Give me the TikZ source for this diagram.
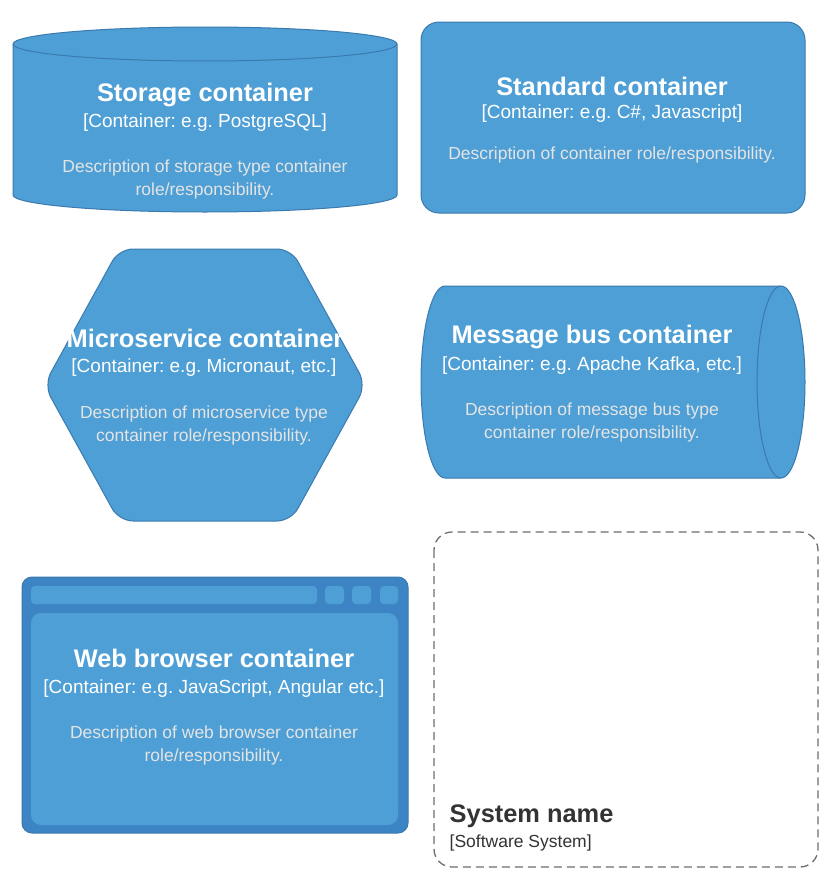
\documentclass[tikz,border=0pt]{standalone}
\usepackage{fontspec}
\setmainfont{Liberation Sans}
\frenchspacing
\definecolor{c4fill}{HTML}{4E9FD5}
\definecolor{c4stroke}{HTML}{3B79AE}
\definecolor{c4dark}{HTML}{3D84C4}
\definecolor{descgray}{HTML}{E4E4E4}
\definecolor{sysgray}{HTML}{333333}
\definecolor{dashgray}{HTML}{6E6E6E}
\begin{document}
\begin{tikzpicture}[x=1pt,y=-1pt,
  box/.style={fill=c4fill, draw=c4stroke, line width=1pt},
  ttl/.style={font=\bfseries\fontsize{25.4}{30}\selectfont, text=white, anchor=base, inner sep=0pt},
  typ/.style={font=\fontsize{19}{23}\selectfont, text=white, anchor=base, inner sep=0pt},
  dsc/.style={font=\fontsize{17.5}{23}\selectfont, text=descgray, anchor=base, inner sep=0pt},
  systtl/.style={font=\bfseries\fontsize{25.4}{30}\selectfont, text=sysgray, anchor=base west, inner sep=0pt},
  systyp/.style={font=\fontsize{17.5}{21}\selectfont, text=sysgray, anchor=base west, inner sep=0pt}]
\fill[white] (0,0) rectangle (832,878);
\useasboundingbox (0,0) rectangle (832,878);

% Storage container (cylinder)
\draw[box] (13,44) -- (13,195) arc[start angle=180,end angle=0,x radius=192,y radius=17]
  -- (397,44) arc[start angle=0,end angle=-180,x radius=192,y radius=17] -- cycle;
\draw[c4stroke, line width=1pt] (13,44) arc[start angle=180,end angle=0,x radius=192,y radius=17];
\node[ttl] (stT) at (205,101.5) {Storage container};
\node[typ] (stY) at (205,127) {[Container: e.g. PostgreSQL]};
\node[dsc] (stD1) at (205,172) {Description of storage type container};
\node[dsc] (stD2) at (205,195) {role/responsibility.};

% Standard container
\draw[box, rounded corners=18pt] (421,22) rectangle (805,213);
\node[ttl] (sdT) at (612,95.5) {Standard container};
\node[typ] (sdY) at (612,118.5) {[Container: e.g. C\#, Javascript]};
\node[dsc] (sdD1) at (612,159) {Description of container role/responsibility.};

% Microservice container (hexagon)
\draw[box, rounded corners=14pt] (119,249) -- (291,249) -- (366,385) -- (291,521) -- (119,521) -- (44,385) -- cycle;
\node[ttl] (msT) at (205,347) {Microservice container};
\node[typ] (msY) at (204,372) {[Container: e.g. Micronaut, etc.]};
\node[dsc] (msD1) at (204,418) {Description of microservice type};
\node[dsc] (msD2) at (204,441) {container role/responsibility.};

% Message bus container (horizontal cylinder)
\draw[box] (445,286) arc[start angle=-90,end angle=-270,x radius=24,y radius=96]
  -- (781,478) arc[start angle=90,end angle=-90,x radius=24,y radius=96] -- cycle;
\draw[c4stroke, line width=1pt] (781,286) arc[start angle=-90,end angle=-270,x radius=24,y radius=96];
\node[ttl] (mbT) at (592,343) {Message bus container};
\node[typ] (mbY) at (592,370) {[Container: e.g. Apache Kafka, etc.]};
\node[dsc] (mbD1) at (592,415) {Description of message bus type};
\node[dsc] (mbD2) at (592,438) {container role/responsibility.};

% Web browser container
\draw[fill=c4dark, draw=c4stroke, line width=1pt, rounded corners=10pt] (22,577) rectangle (408,833);
\fill[c4fill, rounded corners=4pt] (31,586) rectangle (317,604);
\fill[c4fill, rounded corners=4pt] (325,586) rectangle (344,604);
\fill[c4fill, rounded corners=4pt] (352,586) rectangle (371,604);
\fill[c4fill, rounded corners=4pt] (380,586) rectangle (398,604);
\fill[c4fill, rounded corners=10pt] (31,613) rectangle (398,825);
\node[ttl] (wbT) at (214,667) {Web browser container};
\node[typ] (wbY) at (214,693) {[Container: e.g. JavaScript, Angular etc.]};
\node[dsc] (wbD1) at (214,738) {Description of web browser container};
\node[dsc] (wbD2) at (214,761) {role/responsibility.};

% System boundary
\draw[dashgray, line width=1.3pt, dash pattern=on 8pt off 5pt, rounded corners=18pt] (434,532) rectangle (818,867);
\node[systtl] (syT) at (449.5,822) {System name};
\node[systyp] (syY) at (449.5,847) {[Software System]};
\end{tikzpicture}
\end{document}
